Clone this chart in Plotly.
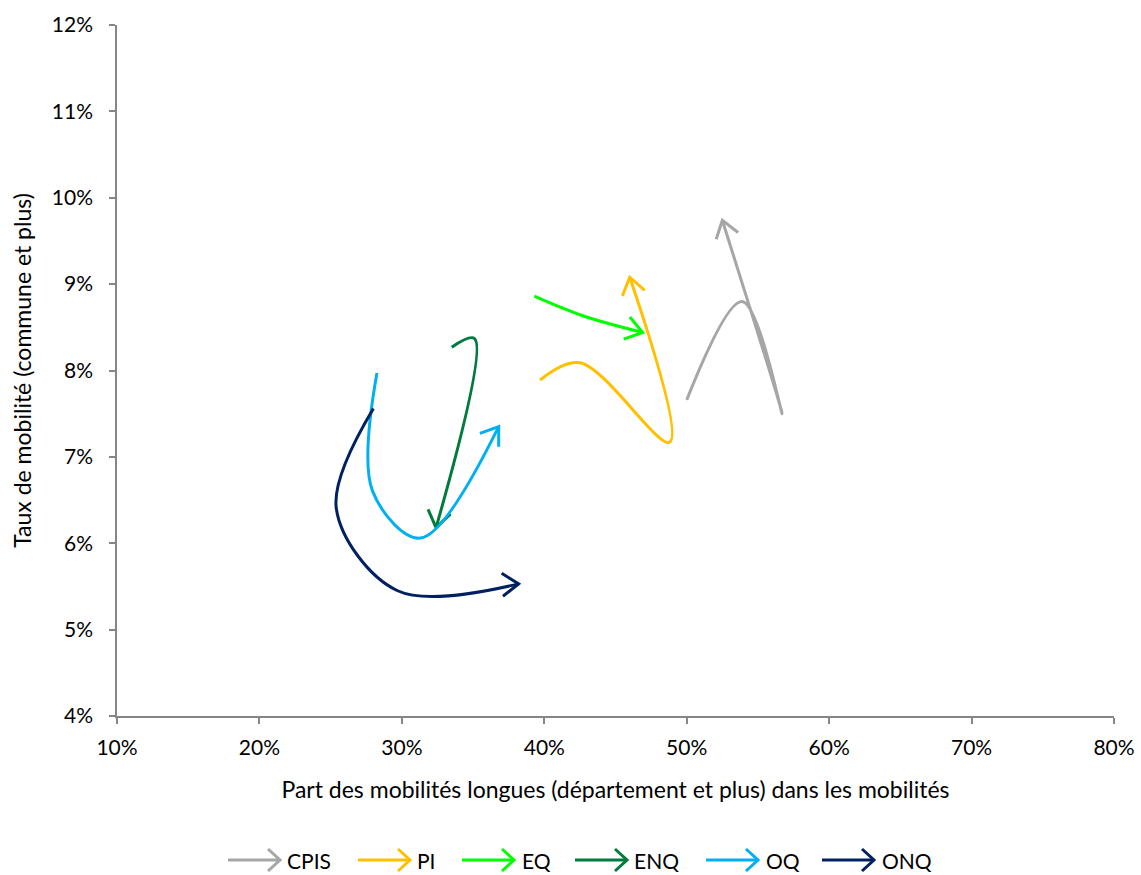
import math
import plotly.graph_objects as go

# ---- data (shares in %) ----
series = ["CPIS", "PI", "EQ", "ENQ", "OQ", "ONQ"]
colors = ["#A6A6A6", "#FFC000", "#00FF00", "#007A3D", "#00B0F0", "#002060"]

cpis_x = [50.0, 53.9, 56.7, 52.5]
cpis_y = [7.66, 8.80, 7.50, 9.74]
pi_x = [39.7, 42.5, 48.8, 46.0]
pi_y = [7.89, 8.09, 7.17, 9.08]
eq_x = [39.3, 42.6, 46.9]
eq_y = [8.86, 8.64, 8.44]
enq_x = [33.5, 35.1, 32.4]
enq_y = [8.27, 8.37, 6.18]
oq_x = [28.25, 27.95, 31.3, 36.8]
oq_y = [7.97, 6.60, 6.06, 7.35]
onq_x = [28.0, 25.4, 29.7, 38.2]
onq_y = [7.56, 6.40, 5.45, 5.53]

xs = [cpis_x, pi_x, eq_x, enq_x, oq_x, onq_x]
ys = [cpis_y, pi_y, eq_y, enq_y, oq_y, onq_y]

x_ticks = [10, 20, 30, 40, 50, 60, 70, 80]
y_ticks = [4, 5, 6, 7, 8, 9, 10, 11, 12]

W, H = 1141, 875
ml, mr, mt, mb = 117, 27, 25, 159
pw, ph = W - ml - mr, H - mt - mb
sx = pw / (x_ticks[-1] - x_ticks[0])
sy = ph / (y_ticks[-1] - y_ticks[0])

fig = go.Figure()
LW = 3
for name, c, X, Y in zip(series, colors, xs, ys):
    fig.add_trace(go.Scatter(x=X, y=Y, mode="lines", name=name,
                             line=dict(color=c, width=LW, shape="spline", smoothing=1.0),
                             showlegend=False, hoverinfo="skip"))
    # open arrow head at the end, computed in pixel space
    dx = (X[-1] - X[-2]) * sx
    dy = (Y[-1] - Y[-2]) * sy
    n = math.hypot(dx, dy)
    ux, uy = dx / n, dy / n
    L, a = 20, math.radians(35)
    wx, wy = [], []
    for s in (1, -1):
        ca, sa = math.cos(s * a), math.sin(s * a)
        rx = -(ux * ca - uy * sa)
        ry = -(ux * sa + uy * ca)
        wx.append(X[-1] + rx * L / sx)
        wy.append(Y[-1] + ry * L / sy)
    fig.add_trace(go.Scatter(x=[wx[0], X[-1], wx[1]], y=[wy[0], Y[-1], wy[1]],
                             mode="lines", line=dict(color=c, width=LW),
                             showlegend=False, hoverinfo="skip"))

# ---- manual legend with arrow samples ----
leg_y = 860
leg_items = [(228, 285), (358, 415), (462, 520), (575, 632), (706, 764), (822, 880)]
shapes = []
annotations = []


def px(v):
    return (v - ml) / pw


def py(v):
    return (H - mb - v) / ph


for (x0, tx), name, c in zip(leg_items, series, colors):
    x1 = x0 + 52
    shapes.append(dict(type="line", xref="paper", yref="paper",
                       x0=px(x0), x1=px(x1), y0=py(leg_y), y1=py(leg_y),
                       line=dict(color=c, width=LW)))
    shapes.append(dict(type="path", xref="paper", yref="paper",
                       path=f"M {px(x1-12)} {py(leg_y-11)} L {px(x1)} {py(leg_y)} L {px(x1-12)} {py(leg_y+11)}",
                       line=dict(color=c, width=LW)))
    annotations.append(dict(xref="paper", yref="paper", x=px(tx), y=py(leg_y),
                            text=name, showarrow=False, xanchor="left", yanchor="middle",
                            font=dict(size=21, color="#000000")))

fig.update_layout(
    width=W, height=H,
    margin=dict(l=ml, r=mr, t=mt, b=mb, autoexpand=False),
    paper_bgcolor="white", plot_bgcolor="white",
    font=dict(family="Lato, Open Sans, sans-serif", size=21, color="#000000"),
    shapes=shapes, annotations=annotations,
    xaxis=dict(range=[x_ticks[0], x_ticks[-1]], tickvals=x_ticks,
               ticktext=[f"{v}%" for v in x_ticks], showgrid=False, zeroline=False,
               showline=True, linecolor="#868686", linewidth=1.5,
               ticks="outside", ticklen=6, tickcolor="#868686", tickwidth=1.5,
               ticklabelstandoff=6, automargin=False,
               tickfont=dict(size=21),
               title=dict(text="Part des mobilités longues (département et plus) dans les mobilités",
                          font=dict(size=23), standoff=24)),
    yaxis=dict(range=[y_ticks[0], y_ticks[-1]], tickvals=y_ticks,
               ticktext=[f"{v}%" for v in y_ticks], showgrid=False, zeroline=False,
               showline=True, linecolor="#868686", linewidth=1.5,
               ticks="outside", ticklen=6, tickcolor="#868686", tickwidth=1.5,
               ticklabelstandoff=12, automargin=False,
               tickfont=dict(size=21),
               title=dict(text="Taux de mobilité (commune et plus)", font=dict(size=23), standoff=14)),
)

fig.write_html("out.html", config={"displayModeBar": False},
               post_script="document.body.style.margin='0';document.body.style.overflow='hidden';")
